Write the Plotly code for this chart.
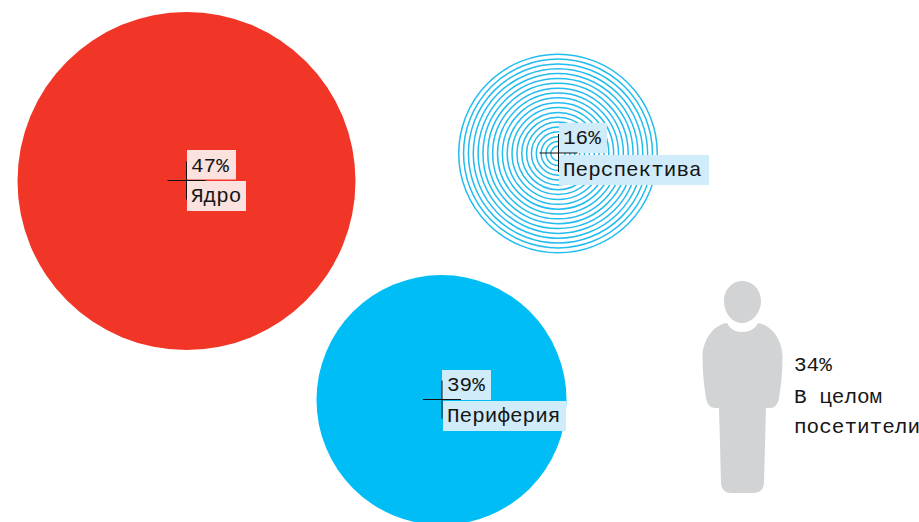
import plotly.graph_objects as go

# Data
segments = ["Ядро", "Периферия", "Перспектива"]
shares = ["47%", "39%", "16%"]
overall_share = "34%"
overall_label = ["В целом", "посетители"]

# Layout (pixel coordinates, y downward)
W, H = 919, 522
centers_x = [186.5, 441.5, 558]
centers_y = [181, 400, 153.5]
diameters = [338, 250, 200]
RED, BLUE, RING, GREY = "#F13526", "#00BEF5", "#22BCEF", "#D1D3D4"
FONT = "Liberation Mono"
FS = 21

fig = go.Figure()

fig.add_trace(go.Scatter(x=centers_x[:2], y=centers_y[:2], mode="markers", hoverinfo="skip",
                         marker=dict(size=diameters[:2], color=[RED, BLUE], line_width=0, opacity=1)))

# concentric rings
ring_radii = [99.3 - 4.85 * i for i in range(20)]
for r in ring_radii:
    cx, cy = centers_x[2], centers_y[2]
    fig.add_shape(type="circle", x0=cx - r, x1=cx + r, y0=cy - r, y1=cy + r,
                  line=dict(color=RING, width=1.5), layer="below")

# label boxes
boxes = [
    (187, 236, 150, 179.5, "#FBE2DF"), (187, 246, 181, 211, "#FBE2DF"),
    (442, 491, 370, 400, "#D0ECFA"), (443, 566, 401, 431, "#D0ECFA"),
    (559, 607, 123, 153, "#D0ECFA"), (559, 709, 155, 185, "#D0ECFA"),
]
for x0, x1, y0, y1, c in boxes:
    fig.add_shape(type="rect", x0=x0, x1=x1, y0=y0, y1=y1, fillcolor=c, line_width=0, layer="above")

# crosses
cross_x = [186, 441.5, 558]
for cx, cy in zip(cross_x, centers_y):
    fig.add_shape(type="line", x0=cx - 18.5, x1=cx + 19.5, y0=cy - 0.5, y1=cy - 0.5,
                  line=dict(color="#111111", width=1), layer="above")
    fig.add_shape(type="line", x0=cx + 0.5, x1=cx + 0.5, y0=cy - 19.5, y1=cy + 18.5,
                  line=dict(color="#111111", width=1), layer="above")

# person pictogram
person = ("M 742 281 C 753 281 761 290 761 301 C 761 313 752 323 742 323 "
          "C 732 323 724 313 724 301 C 724 290 732 281 742 281 Z "
          "M 727 323 C 730 329 735 332 742 332 C 749 332 755 329 758 323 "
          "C 772 325 782 340 782.5 356 C 782.5 372 781 386 779 398 "
          "C 778 404 775 408 770 408 L 766 408 L 764 482 "
          "C 764 489 760 493 754 493 L 731 493 C 725 493 721 489 721 482 "
          "L 719 408 L 715 408 C 710 408 707 404 706 398 "
          "C 704 386 702.5 372 702.5 356 C 703 340 713 325 727 323 Z")
fig.add_shape(type="path", path=person, fillcolor=GREY, line_width=0, layer="below")

def label(x, y, text):
    fig.add_annotation(x=x, y=y, text=text, showarrow=False, xanchor="left", yanchor="middle",
                       font=dict(family=FONT, size=FS, color="#161616"), borderpad=0, borderwidth=0)

share_x = [191, 446.5, 563]
segment_x = [191, 447, 563]
share_y = [166, 385, 138.5]
segment_y = [196, 416, 170.5]
for i in range(3):
    label(share_x[i], share_y[i], shares[i])
    label(segment_x[i], segment_y[i], segments[i])

label(794, 365, overall_share)
label(794, 397, overall_label[0])
label(794, 427, overall_label[1])

fig.update_xaxes(range=[0, W], visible=False, fixedrange=True)
fig.update_yaxes(range=[H, 0], visible=False, fixedrange=True)
fig.update_layout(width=W, height=H, margin=dict(l=0, r=0, t=0, b=0), showlegend=False,
                  paper_bgcolor="white", plot_bgcolor="white")
fig.write_html("out.html", config={"displayModeBar": False},
               post_script="document.body.style.margin='0';document.body.style.overflow='hidden';")
